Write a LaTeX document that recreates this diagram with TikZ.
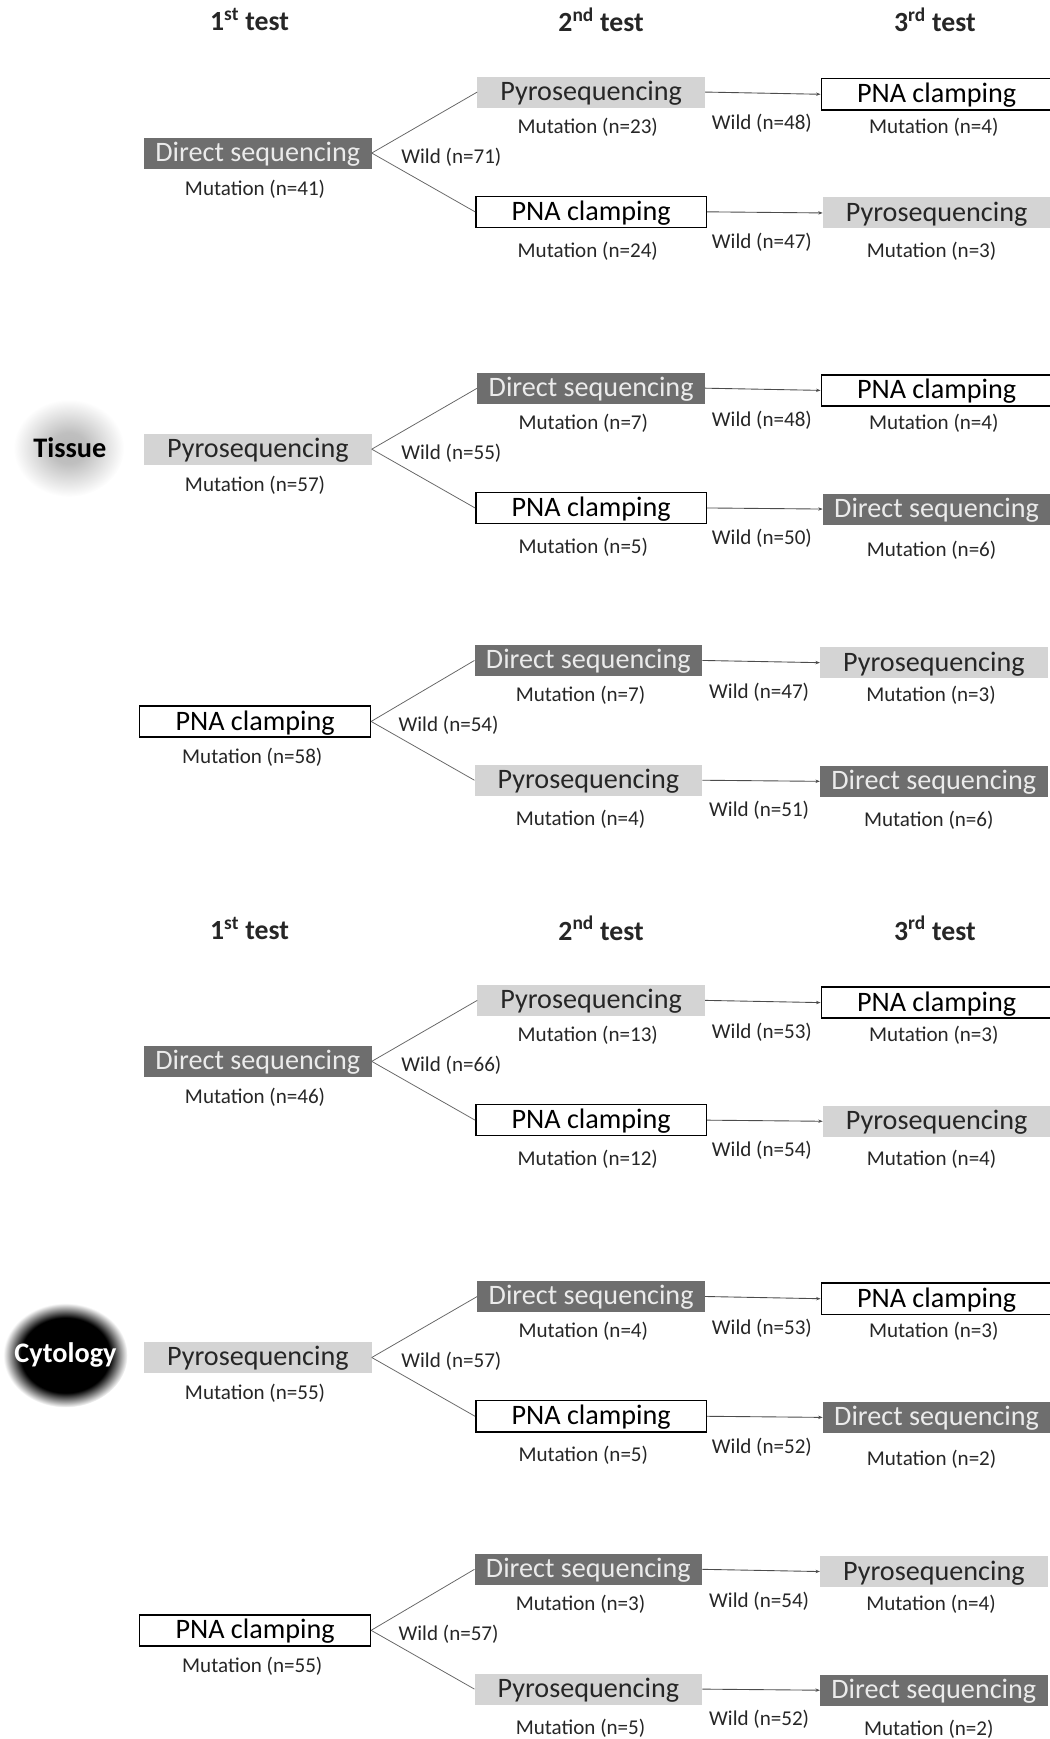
\documentclass[tikz,border=0pt]{standalone}
\usepackage{fontspec}
\setmainfont{Carlito}
\usetikzlibrary{arrows.meta}
\definecolor{boxdark}{RGB}{110,110,110}
\definecolor{boxlight}{RGB}{212,212,212}
\pgfdeclareradialshading{tissueglow}{\pgfpoint{0bp}{0bp}}{%
  color(0bp)=(black!28); color(8bp)=(black!25); color(25bp)=(white); color(50bp)=(white)}
\pgfdeclareradialshading{cytoglow}{\pgfpoint{0bp}{0bp}}{%
  color(0bp)=(black); color(18bp)=(black); color(25bp)=(white); color(50bp)=(white)}
\tikzset{
  testbox/.style={minimum height=28pt,inner sep=0pt,text depth=0.22em,
    font=\fontsize{25.4}{28}\selectfont},
  darkbox/.style={testbox,fill=boxdark,text=white!92!black,minimum width=205pt},
  lightbox/.style={testbox,fill=boxlight,text=black!85,minimum width=205pt},
  whitebox/.style={testbox,draw=black,line width=1.3pt,fill=white,text=black,
    minimum width=208pt},
  mutlabel/.style={inner sep=0pt,yshift=-1.5pt,text=black!85,
    font=\fontsize{19}{22}\selectfont},
  wildlabel/.style={mutlabel},
  branch/.style={draw=black!60,line width=0.7pt},
  wildarrow/.style={draw=black!70,line width=0.8pt,-{Stealth[length=4pt,width=3pt]}},
  header/.style={inner sep=0pt,text=black!85,font=\fontsize{25}{28}\bfseries\selectfont},
  sample/.style={inner sep=0pt,font=\fontsize{25.5}{28}\bfseries\selectfont},
}

\begin{document}
\begin{tikzpicture}[x=1pt,y=-1pt]
  \useasboundingbox (0,0) rectangle (946,1568);

  % column heads
  \foreach \dy/\part in {0/a,819/b}{
    \node[header] (head1\part) at (225,18+\dy) {1\textsuperscript{st} test};
    \node[header] (head2\part) at (542,18+\dy) {2\textsuperscript{nd} test};
    \node[header] (head3\part) at (843,18+\dy) {3\textsuperscript{rd} test};
  }

  % samples
  \shade[shading=tissueglow] (62,404) ellipse [x radius=50pt,y radius=44pt];
  \node[sample,text=black] (tissue) at (63,404) {Tissue};
  \shade[shading=cytoglow] (59,1222) ellipse [x radius=56pt,y radius=47pt];
  \node[sample,text=white] (cytology) at (59,1222) {Cytology};

  % tissue: direct sequencing first
  \begin{scope}
    \node[darkbox] (s1first) at (232.5,138) {Direct sequencing};
    \node[mutlabel] at (230,169) {Mutation (n=41)};
    \node[lightbox] (s1up) at (533,83) {Pyrosequencing};
    \node[mutlabel] at (530,113) {Mutation (n=23)};
    \node[whitebox] (s1down) at (533,191) {PNA clamping};
    \node[mutlabel] at (530,225) {Mutation (n=24)};
    \node[whitebox] (s1upend) at (844.5,85) {PNA clamping};
    \node[mutlabel] at (842,113) {Mutation (n=4)};
    \node[lightbox] (s1downend) at (844.5,192) {Pyrosequencing};
    \node[mutlabel] at (840,225) {Mutation (n=3)};
    \draw[branch] (s1first.east) -- (s1up.west);
    \draw[branch] (s1first.east) -- (s1down.west);
    \node[wildlabel] at (407,140) {Wild (n=71)};
    \draw[wildarrow] (s1up.east) -- (s1upend.west);
    \node[wildlabel] at (687,110) {Wild (n=48)};
    \draw[wildarrow] (s1down.east) -- (s1downend.west);
    \node[wildlabel] at (687,217) {Wild (n=47)};
  \end{scope}

  % tissue: pyrosequencing first
  \begin{scope}[shift={(0,267)}]
    \node[lightbox] (s2first) at (232.5,138) {Pyrosequencing};
    \node[mutlabel] at (230,169) {Mutation (n=57)};
    \node[darkbox] (s2up) at (533,83) {Direct sequencing};
    \node[mutlabel] at (526,113) {Mutation (n=7)};
    \node[whitebox] (s2down) at (533,191) {PNA clamping};
    \node[mutlabel] at (526,225) {Mutation (n=5)};
    \node[whitebox] (s2upend) at (844.5,85) {PNA clamping};
    \node[mutlabel] at (842,113) {Mutation (n=4)};
    \node[darkbox] (s2downend) at (844.5,192) {Direct sequencing};
    \node[mutlabel] at (840,228) {Mutation (n=6)};
    \draw[branch] (s2first.east) -- (s2up.west);
    \draw[branch] (s2first.east) -- (s2down.west);
    \node[wildlabel] at (407,140) {Wild (n=55)};
    \draw[wildarrow] (s2up.east) -- (s2upend.west);
    \node[wildlabel] at (687,110) {Wild (n=48)};
    \draw[wildarrow] (s2down.east) -- (s2downend.west);
    \node[wildlabel] at (687,217) {Wild (n=50)};
  \end{scope}

  % tissue: PNA clamping first
  \begin{scope}[shift={(-2.5,512.5)}]
    \node[whitebox] (s3first) at (232.5,138) {PNA clamping};
    \node[mutlabel] at (230,169) {Mutation (n=58)};
    \node[darkbox] (s3up) at (533,83) {Direct sequencing};
    \node[mutlabel] at (526,113) {Mutation (n=7)};
    \node[lightbox] (s3down) at (533,191) {Pyrosequencing};
    \node[mutlabel] at (526,225) {Mutation (n=4)};
    \node[lightbox] (s3upend) at (844.5,85) {Pyrosequencing};
    \node[mutlabel] at (842,113) {Mutation (n=3)};
    \node[darkbox] (s3downend) at (844.5,192) {Direct sequencing};
    \node[mutlabel] at (840,226) {Mutation (n=6)};
    \draw[branch] (s3first.east) -- (s3up.west);
    \draw[branch] (s3first.east) -- (s3down.west);
    \node[wildlabel] at (407,140) {Wild (n=54)};
    \draw[wildarrow] (s3up.east) -- (s3upend.west);
    \node[wildlabel] at (687,110) {Wild (n=47)};
    \draw[wildarrow] (s3down.east) -- (s3downend.west);
    \node[wildlabel] at (687,217) {Wild (n=51)};
  \end{scope}

  % cytology: direct sequencing first
  \begin{scope}[shift={(0,819)}]
    \node[darkbox] (s4first) at (232.5,138) {Direct sequencing};
    \node[mutlabel] at (230,169) {Mutation (n=46)};
    \node[lightbox] (s4up) at (533,83) {Pyrosequencing};
    \node[mutlabel] at (530,113) {Mutation (n=13)};
    \node[whitebox] (s4down) at (533,191) {PNA clamping};
    \node[mutlabel] at (530,225) {Mutation (n=12)};
    \node[whitebox] (s4upend) at (844.5,85) {PNA clamping};
    \node[mutlabel] at (842,113) {Mutation (n=3)};
    \node[lightbox] (s4downend) at (844.5,192) {Pyrosequencing};
    \node[mutlabel] at (840,225) {Mutation (n=4)};
    \draw[branch] (s4first.east) -- (s4up.west);
    \draw[branch] (s4first.east) -- (s4down.west);
    \node[wildlabel] at (407,140) {Wild (n=66)};
    \draw[wildarrow] (s4up.east) -- (s4upend.west);
    \node[wildlabel] at (687,110) {Wild (n=53)};
    \draw[wildarrow] (s4down.east) -- (s4downend.west);
    \node[wildlabel] at (687,217) {Wild (n=54)};
  \end{scope}

  % cytology: pyrosequencing first
  \begin{scope}[shift={(0,1086)}]
    \node[lightbox] (s5first) at (232.5,138) {Pyrosequencing};
    \node[mutlabel] at (230,169) {Mutation (n=55)};
    \node[darkbox] (s5up) at (533,83) {Direct sequencing};
    \node[mutlabel] at (526,113) {Mutation (n=4)};
    \node[whitebox] (s5down) at (533,191) {PNA clamping};
    \node[mutlabel] at (526,225) {Mutation (n=5)};
    \node[whitebox] (s5upend) at (844.5,85) {PNA clamping};
    \node[mutlabel] at (842,113) {Mutation (n=3)};
    \node[darkbox] (s5downend) at (844.5,192) {Direct sequencing};
    \node[mutlabel] at (840,228) {Mutation (n=2)};
    \draw[branch] (s5first.east) -- (s5up.west);
    \draw[branch] (s5first.east) -- (s5down.west);
    \node[wildlabel] at (407,140) {Wild (n=57)};
    \draw[wildarrow] (s5up.east) -- (s5upend.west);
    \node[wildlabel] at (687,110) {Wild (n=53)};
    \draw[wildarrow] (s5down.east) -- (s5downend.west);
    \node[wildlabel] at (687,217) {Wild (n=52)};
  \end{scope}

  % cytology: PNA clamping first
  \begin{scope}[shift={(-2.5,1332)}]
    \node[whitebox] (s6first) at (232.5,138) {PNA clamping};
    \node[mutlabel] at (230,169) {Mutation (n=55)};
    \node[darkbox] (s6up) at (533,83) {Direct sequencing};
    \node[mutlabel] at (526,113) {Mutation (n=3)};
    \node[lightbox] (s6down) at (533,191) {Pyrosequencing};
    \node[mutlabel] at (526,225) {Mutation (n=5)};
    \node[lightbox] (s6upend) at (844.5,85) {Pyrosequencing};
    \node[mutlabel] at (842,113) {Mutation (n=4)};
    \node[darkbox] (s6downend) at (844.5,192) {Direct sequencing};
    \node[mutlabel] at (840,226) {Mutation (n=2)};
    \draw[branch] (s6first.east) -- (s6up.west);
    \draw[branch] (s6first.east) -- (s6down.west);
    \node[wildlabel] at (407,140) {Wild (n=57)};
    \draw[wildarrow] (s6up.east) -- (s6upend.west);
    \node[wildlabel] at (687,110) {Wild (n=54)};
    \draw[wildarrow] (s6down.east) -- (s6downend.west);
    \node[wildlabel] at (687,217) {Wild (n=52)};
  \end{scope}
\end{tikzpicture}
\end{document}
